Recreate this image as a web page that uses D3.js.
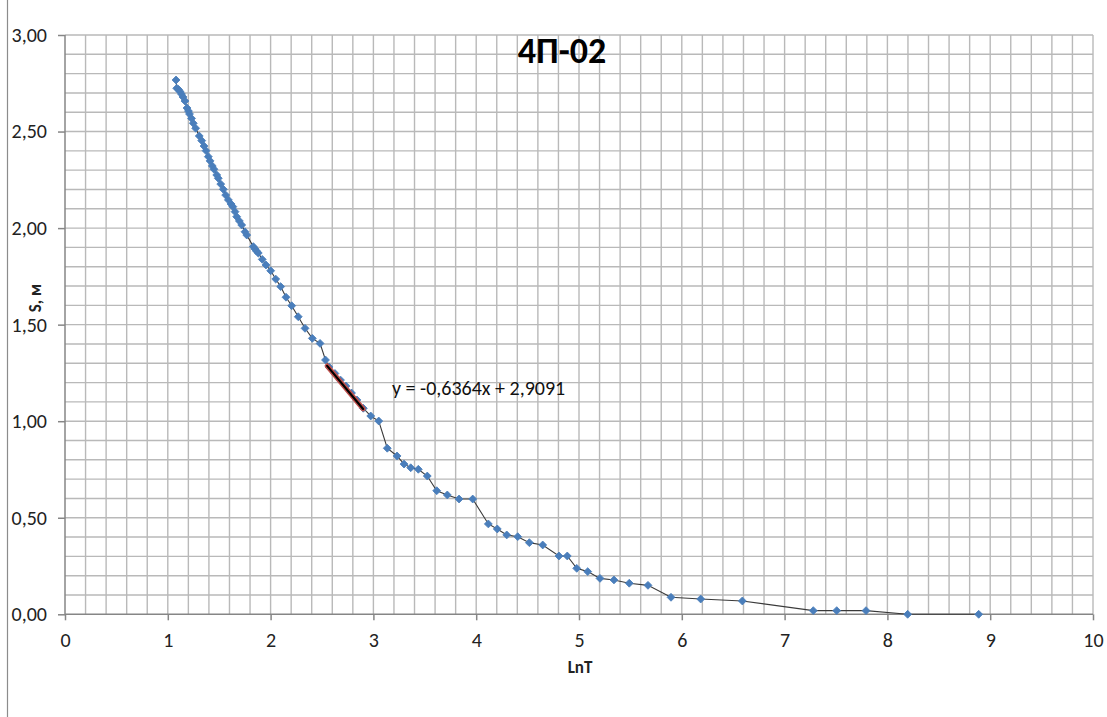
<!DOCTYPE html>
<html>
<head>
<meta charset="utf-8">
<script src="https://cdn.jsdelivr.net/npm/d3@7"></script>
<style>
  body { margin: 0; background: #fff; }
  svg { display: block; font-family: Carlito, Calibri, 'Open Sans', sans-serif; }
</style>
</head>
<body>
<svg id="chart" width="1107" height="717"></svg>
<script>
// ==================== DATA ====================
const chartTitle = '4П-02';
const xTitle = 'LnT';
const yTitle = 'S, м';

const lnT = [
  1.080, 1.087, 1.104, 1.119, 1.133, 1.148, 1.167, 1.187, 1.201, 1.211,
  1.231, 1.248, 1.271, 1.306, 1.330, 1.352, 1.372, 1.394, 1.411, 1.433,
  1.449, 1.476, 1.491, 1.515, 1.540, 1.563, 1.589, 1.615, 1.633, 1.654,
  1.670, 1.696, 1.719, 1.751, 1.768, 1.832, 1.848, 1.863, 1.880, 1.919,
  1.955, 2.001, 2.050, 2.098, 2.150, 2.205, 2.269, 2.335, 2.406, 2.481,
  2.534, 2.568, 2.626, 2.680, 2.733, 2.787, 2.840, 2.902, 2.974, 3.052,
  3.135, 3.230, 3.298, 3.363, 3.437, 3.524, 3.616, 3.719, 3.833, 3.966,
  4.118, 4.205, 4.297, 4.404, 4.517, 4.647, 4.805, 4.886, 4.978, 5.085,
  5.204, 5.340, 5.489, 5.671, 5.895, 6.184, 6.589, 7.279, 7.507, 7.792,
  8.197, 8.888
];
const sValues = [
  2.767, 2.724, 2.718, 2.707, 2.694, 2.679, 2.658, 2.622, 2.606, 2.591,
  2.568, 2.543, 2.517, 2.477, 2.453, 2.425, 2.401, 2.370, 2.348, 2.322,
  2.305, 2.275, 2.258, 2.228, 2.201, 2.171, 2.146, 2.125, 2.111, 2.085,
  2.059, 2.037, 2.016, 1.981, 1.964, 1.904, 1.892, 1.881, 1.871, 1.838,
  1.809, 1.779, 1.736, 1.697, 1.642, 1.598, 1.541, 1.481, 1.429, 1.403,
  1.317, 1.281, 1.247, 1.213, 1.182, 1.146, 1.110, 1.067, 1.027, 1.001,
  0.860, 0.820, 0.778, 0.759, 0.751, 0.716, 0.640, 0.618, 0.597, 0.597,
  0.468, 0.442, 0.411, 0.402, 0.371, 0.359, 0.302, 0.302, 0.238, 0.221,
  0.186, 0.178, 0.161, 0.150, 0.088, 0.079, 0.069, 0.019, 0.019, 0.019,
  0.000, 0.000
];

// linear trendline over the middle part of the curve
const trendCoef = [-0.6364, 2.9091];   // slope, intercept
const trendRange = [2.55, 2.90];
const trendLabel = 'y = -0,6364x + 2,9091';

const xTicks = [0, 1, 2, 3, 4, 5, 6, 7, 8, 9, 10];
const yTicks = [0, 0.5, 1, 1.5, 2, 2.5, 3];

// ==================== CHART ====================
const svg = d3.select('#chart');
const plotL = 65, plotR = 1093, plotT = 35, plotB = 614.3;

const x = d3.scaleLinear().domain([0, 10]).range([plotL, plotR]);
const y = d3.scaleLinear().domain([0, 3]).range([plotB, plotT]);
const fmt = (d) => d.toFixed(2).replace('.', ',');

// outer chart border (left edge visible)
svg.append('line')
  .attr('x1', 7.5).attr('x2', 7.5).attr('y1', 0).attr('y2', 717)
  .attr('stroke', '#8c8c8c').attr('stroke-width', 1.2);

// grid
const grid = svg.append('g').attr('stroke', '#b9b9b9').attr('stroke-width', 1.4);
d3.range(1, 51).forEach((i) => {
  grid.append('line')
    .attr('x1', x(i * 0.2)).attr('x2', x(i * 0.2))
    .attr('y1', plotT).attr('y2', plotB);
});
d3.range(1, 31).forEach((i) => {
  grid.append('line')
    .attr('x1', plotL).attr('x2', plotR)
    .attr('y1', y(i * 0.1)).attr('y2', y(i * 0.1));
});

// axes
const xAxis = svg.append('g')
  .attr('transform', `translate(0,${plotB})`)
  .call(d3.axisBottom(x).tickValues(xTicks).tickSize(6).tickPadding(13).tickFormat(d3.format('d')));
const yAxis = svg.append('g')
  .attr('transform', `translate(${plotL},0)`)
  .call(d3.axisLeft(y).tickValues(yTicks).tickSize(7).tickPadding(11).tickFormat(fmt));

[xAxis, yAxis].forEach((ax) => {
  ax.select('.domain').attr('stroke', '#868686').attr('stroke-width', 1.5);
  ax.selectAll('.tick line').attr('stroke', '#868686').attr('stroke-width', 1.5);
  ax.selectAll('.tick text')
    .attr('fill', '#222')
    .attr('font-size', '20px')
    .attr('font-family', "Carlito, Calibri, 'Open Sans', sans-serif");
});
xAxis.select('.domain').attr('d', `M${plotL},0H${plotR}`);
yAxis.select('.domain').attr('d', `M0,${plotB}V${plotT}`);

// data line + markers
const pts = lnT.map((v, i) => [v, sValues[i]]);
svg.append('path')
  .datum(pts)
  .attr('fill', 'none')
  .attr('stroke', '#3a3a3a')
  .attr('stroke-width', 1.1)
  .attr('d', d3.line().x((d) => x(d[0])).y((d) => y(d[1])));

const marker = d3.symbol(d3.symbolSquare, 31);
svg.append('g')
  .selectAll('path')
  .data(pts)
  .join('path')
  .attr('d', marker)
  .attr('transform', (d) => `translate(${x(d[0])},${y(d[1])}) rotate(45)`)
  .attr('fill', '#4a7ebb')
  .attr('stroke', '#4a7ebb')
  .attr('stroke-width', 0.8);

// trendline
const trendPts = trendRange.map((v) => [v, trendCoef[0] * v + trendCoef[1]]);
const trendLine = d3.line().x((d) => x(d[0])).y((d) => y(d[1]));
svg.append('path').datum(trendPts)
  .attr('d', trendLine).attr('stroke', '#c0504d').attr('stroke-width', 5)
  .attr('stroke-linecap', 'round').attr('fill', 'none');
svg.append('path').datum(trendPts)
  .attr('d', trendLine).attr('stroke', '#000').attr('stroke-width', 2.2)
  .attr('stroke-linecap', 'round').attr('fill', 'none');

svg.append('text')
  .attr('x', 392).attr('y', 395)
  .attr('font-size', '20px').attr('fill', '#111')
  .text(trendLabel);

// titles
svg.append('text')
  .attr('x', 562).attr('y', 63)
  .attr('text-anchor', 'middle')
  .attr('font-size', '36px').attr('font-weight', 'bold').attr('fill', '#000')
  .text(chartTitle);

svg.append('text')
  .attr('x', 580).attr('y', 673)
  .attr('text-anchor', 'middle')
  .attr('font-size', '17px').attr('font-weight', 'bold').attr('fill', '#222')
  .text(xTitle);

svg.append('text')
  .attr('transform', 'translate(41,298) rotate(-90)')
  .attr('text-anchor', 'middle')
  .attr('font-size', '17px').attr('font-weight', 'bold').attr('fill', '#222')
  .text(yTitle);
</script>
</body>
</html>
